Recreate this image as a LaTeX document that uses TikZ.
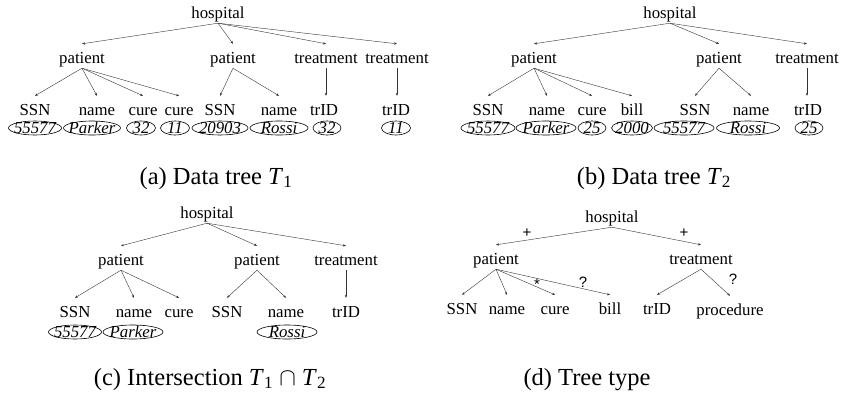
\documentclass[tikz,border=0pt]{standalone}
\usepackage{fontspec}
\setmainfont{Liberation Serif}
\newfontfamily\multfont{Liberation Sans}
\usetikzlibrary{arrows.meta,shapes.geometric}
\newcommand\valtxt[1]{\makebox[0pt]{\raisebox{-0.34em}[0pt][0pt]{#1}}}
\tikzset{
  lbl/.style={inner xsep=1pt, inner ysep=0pt, text height=19pt, text depth=5pt, anchor=base, font=\fontsize{16.8}{18}\selectfont},
  val/.style={ellipse, draw, line width=0.6pt, inner sep=0pt, minimum height=14pt, font=\fontsize{16.8}{18}\selectfont\itshape},
  edge/.style={line width=0.4pt, draw=black!80, -{Stealth[length=3pt,width=2.4pt]}},
  capt/.style={anchor=base, inner sep=0pt, font=\fontsize{24.5}{28}\selectfont},
  mult/.style={inner sep=0pt, font=\multfont\fontsize{15}{16}\selectfont},
}
\begin{document}
\begin{tikzpicture}[x=1pt,y=-1pt]
\useasboundingbox (0,0) rectangle (842,397);
% ---------------- (a)
\node[lbl] (hospA) at (218,18) {hospital};
\node[lbl] (pA1) at (82,63) {patient};
\node[lbl] (pA2) at (233,63) {patient};
\node[lbl] (tA1) at (326,63) {treatment};
\node[lbl] (tA2) at (397,63) {treatment};
\node[lbl] (ssnA1) at (35,115) {SSN};
\node[lbl] (nameA1) at (97,115) {name};
\node[lbl] (cureA1) at (143,115) {cure};
\node[lbl] (cureA2) at (179,115) {cure};
\node[lbl] (ssnA2) at (220,115) {SSN};
\node[lbl] (nameA2) at (279,115) {name};
\node[lbl] (trA1) at (324,115) {trID};
\node[lbl] (trA2) at (396,115) {trID};
\node[val, minimum width=53pt] (vA1) at (35,128) {\valtxt{55577}};
\node[val, minimum width=57pt] (vA2) at (92,128) {\valtxt{Parker}};
\node[val, minimum width=29pt] (vA3) at (141,128) {\valtxt{32}};
\node[val, minimum width=29pt] (vA4) at (175,128) {\valtxt{11}};
\node[val, minimum width=56pt] (vA5) at (220,128) {\valtxt{20903}};
\node[val, minimum width=58pt] (vA6) at (279,128) {\valtxt{Rossi}};
\node[val, minimum width=28pt] (vA7) at (327,128) {\valtxt{32}};
\node[val, minimum width=29pt] (vA8) at (396,128) {\valtxt{11}};
\draw[edge] (hospA.south) -- (pA1.north);
\draw[edge] (hospA.south) -- (pA2.north);
\draw[edge] (hospA.south) -- (tA1.north);
\draw[edge] (hospA.south) -- (tA2.north);
\draw[edge] (pA1.south) -- (ssnA1.north);
\draw[edge] (pA1.south) -- (nameA1.north);
\draw[edge] (pA1.south) -- (cureA1.north);
\draw[edge] (pA1.south) -- (cureA2.north);
\draw[edge] (pA2.south) -- (ssnA2.north);
\draw[edge] (pA2.south) -- (nameA2.north);
\draw[edge] (tA1.south) -- (tA1.south |- trA1.north);
\draw[edge] (tA2.south) -- (tA2.south |- trA2.north);
\node[capt] (capA) at (216,184) {(a) Data tree \textit{T}\textsubscript{1}};
% ---------------- (b)
\node[lbl] (hospB) at (670,18) {hospital};
\node[lbl] (pB1) at (534,63) {patient};
\node[lbl] (pB2) at (719,63) {patient};
\node[lbl] (tB) at (807,63) {treatment};
\node[lbl] (ssnB1) at (488,115) {SSN};
\node[lbl] (nameB1) at (547,115) {name};
\node[lbl] (cureB1) at (592,115) {cure};
\node[lbl] (billB1) at (632,115) {bill};
\node[lbl] (ssnB2) at (695,115) {SSN};
\node[lbl] (nameB2) at (751,115) {name};
\node[lbl] (trB) at (808,115) {trID};
\node[val, minimum width=54pt] (vB1) at (488,128) {\valtxt{55577}};
\node[val, minimum width=60pt] (vB2) at (546,128) {\valtxt{Parker}};
\node[val, minimum width=28pt] (vB3) at (592,128) {\valtxt{25}};
\node[val, minimum width=41pt] (vB4) at (632,128) {\valtxt{2000}};
\node[val, minimum width=60pt] (vB5) at (684,128) {\valtxt{55577}};
\node[val, minimum width=63pt] (vB6) at (748,128) {\valtxt{Rossi}};
\node[val, minimum width=28pt] (vB7) at (809,128) {\valtxt{25}};
\draw[edge] (hospB.south) -- (pB1.north);
\draw[edge] (hospB.south) -- (pB2.north);
\draw[edge] (hospB.south) -- (tB.north);
\draw[edge] (pB1.south) -- (ssnB1.north);
\draw[edge] (pB1.south) -- (nameB1.north);
\draw[edge] (pB1.south) -- (cureB1.north);
\draw[edge] (pB1.south) -- (billB1.north);
\draw[edge] (pB2.south) -- (ssnB2.north);
\draw[edge] (pB2.south) -- (nameB2.north);
\draw[edge] (tB.south) -- (tB.south |- trB.north);
\node[capt] (capB) at (654,184) {(b) Data tree \textit{T}\textsubscript{2}};
% ---------------- (c)
\node[lbl] (hospC) at (207,218) {hospital};
\node[lbl] (pC1) at (121,265) {patient};
\node[lbl] (pC2) at (257,265) {patient};
\node[lbl] (tC) at (346,265) {treatment};
\node[lbl] (ssnC1) at (75,317) {SSN};
\node[lbl] (nameC1) at (134,317) {name};
\node[lbl] (cureC1) at (179,317) {cure};
\node[lbl] (ssnC2) at (227,317) {SSN};
\node[lbl] (nameC2) at (286,317) {name};
\node[lbl] (trC) at (346,317) {trID};
\node[val, minimum width=53pt] (vC1) at (75,332) {\valtxt{55577}};
\node[val, minimum width=60pt] (vC2) at (133,332) {\valtxt{Parker}};
\node[val, minimum width=60pt] (vC3) at (287,332) {\valtxt{Rossi}};
\draw[edge] (hospC.south) -- (pC1.north);
\draw[edge] (hospC.south) -- (pC2.north);
\draw[edge] (hospC.south) -- (tC.north);
\draw[edge] (pC1.south) -- (ssnC1.north);
\draw[edge] (pC1.south) -- (nameC1.north);
\draw[edge] (pC1.south) -- (cureC1.north);
\draw[edge] (pC2.south) -- (ssnC2.north);
\draw[edge] (pC2.south) -- (nameC2.north);
\draw[edge] (tC.south) -- (tC.south |- trC.north);
\node[capt] (capC) at (210,385) {(c) Intersection \textit{T}\textsubscript{1} $\cap$ \textit{T}\textsubscript{2}};
% ---------------- (d)
\node[lbl] (hospD) at (612,222) {hospital};
\node[lbl] (patD) at (496,264) {patient};
\node[lbl] (trtD) at (701,264) {treatment};
\node[lbl] (ssnD) at (462,314) {SSN};
\node[lbl] (nameD) at (507,314) {name};
\node[lbl] (cureD) at (555,314) {cure};
\node[lbl] (billD) at (610,314) {bill};
\node[lbl] (trIDD) at (657,314) {trID};
\node[lbl] (procD) at (730,315) {procedure};
\draw[edge] (hospD.south) -- (patD.north);
\draw[edge] (hospD.south) -- (trtD.north);
\draw[edge] (patD.south) -- (ssnD.north);
\draw[edge] (patD.south) -- (nameD.north);
\draw[edge] (patD.south) -- (cureD.north);
\draw[edge] (patD.south) -- (billD.north);
\draw[edge] (trtD.south) -- (trIDD.north);
\draw[edge] (trtD.south) -- (procD.north);
\node[mult] (m1) at (527,233) {+};
\node[mult] (m2) at (684,233) {+};
\node[mult] (m3) at (537,284) {*};
\node[mult] (m4) at (583,282) {?};
\node[mult] (m5) at (733,279) {?};
\node[capt] (capD) at (587,385) {(d) Tree type};
\end{tikzpicture}
\end{document}
